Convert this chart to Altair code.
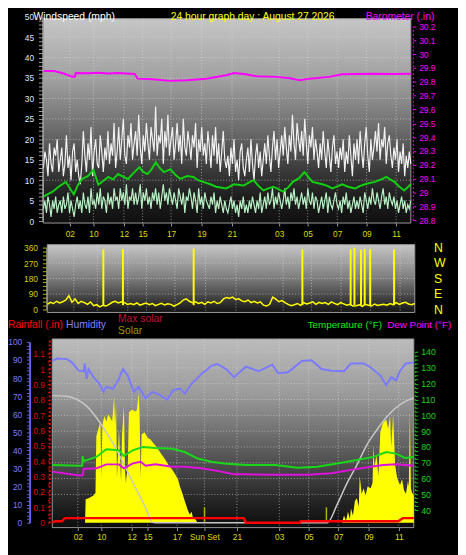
import altair as alt
import pandas as pd

FONT = "Liberation Sans"

# ---------------- text ----------------
title_text = "24 hour graph day : August 27 2026"

# ---------------- time axes (hours into the 24 h window) ----------------
top_tick_hours = [1.73, 3.27, 5.26, 6.48, 8.34, 10.33, 12.32, 15.40, 17.26, 19.19, 21.11, 23.04]
top_tick_labels = ["02", "10", "12", "15", "17", "19", "21", "03", "05", "07", "09", "11"]
bot_tick_hours = [1.70, 3.26, 5.28, 6.33, 8.28, 10.10, 12.26, 15.07, 17.02, 18.98, 21.0, 23.0]
bot_tick_labels = ["02", "10", "12", "15", "17", "Sun Set", "21", "03", "05", "07", "09", "11"]

# ---------------- wind (mph), 6-minute samples ----------------
gust = [13, 17, 15, 11, 19, 14, 12, 18, 16, 20, 12, 15,
        18, 11, 14, 21, 13, 16, 10, 17, 19, 12, 15, 11,
        9, 14, 22, 16, 12, 19, 15, 23, 11, 17, 20, 14,
        13, 21, 17, 12, 18, 15, 22, 14, 19, 16, 24, 13,
        17, 23, 15, 20, 25, 16, 14, 21, 18, 24, 15, 19,
        22, 16, 26, 18, 14, 21, 17, 24, 19, 15, 23, 20,
        17, 28, 16, 21, 19, 25, 14, 22, 18, 26, 16, 20,
        23, 15, 19, 24, 17, 21, 14, 25, 18, 16, 22, 19,
        15, 21, 18, 24, 13, 20, 17, 23, 16, 19, 14, 22,
        18, 13, 21, 16, 23, 14, 19, 12, 17, 22, 15, 13,
        16, 11, 18, 14, 20, 12, 15, 10, 17, 19, 13, 11,
        15, 18, 12, 20, 14, 10, 16, 19, 13, 17, 11, 15,
        19, 14, 21, 16, 12, 18, 22, 15, 20, 13, 17, 21,
        16, 23, 18, 14, 21, 17, 26, 19, 15, 24, 20, 17,
        22, 16, 25, 19, 14, 21, 18, 23, 15, 20, 17, 13,
        19, 15, 22, 17, 13, 20, 16, 12, 18, 21, 14, 17,
        13, 18, 15, 20, 12, 17, 14, 21, 16, 11, 19, 15,
        20, 14, 22, 17, 13, 19, 23, 16, 12, 20, 15, 18,
        22, 17, 24, 15, 20, 18, 23, 14, 19, 21, 16, 13,
        18, 15, 20, 12, 17, 14, 19, 11, 16, 13, 17, 14]
speed = [3, 5, 2, 6, 4, 1, 5, 3, 6, 2, 4, 5,
         2, 6, 3, 4, 7, 2, 5, 3, 1, 4, 6, 3,
         5, 2, 7, 4, 3, 6, 2, 8, 4, 5, 3, 7,
         4, 8, 3, 6, 5, 2, 7, 4, 6, 3, 8, 5,
         6, 3, 8, 5, 7, 4, 9, 3, 6, 5, 8, 4,
         7, 4, 6, 9, 3, 7, 5, 8, 4, 6, 3, 7,
         5, 8, 4, 7, 3, 6, 9, 5, 7, 4, 8, 6,
         4, 7, 5, 3, 8, 6, 4, 7, 2, 6, 5, 8,
         6, 3, 7, 5, 2, 8, 4, 6, 3, 7, 5, 4,
         3, 6, 4, 7, 2, 5, 3, 6, 4, 2, 5, 3,
         2, 4, 6, 3, 5, 2, 4, 1, 5, 3, 6, 2,
         4, 2, 5, 3, 6, 4, 2, 5, 3, 7, 2, 4,
         6, 3, 7, 4, 5, 8, 3, 6, 4, 7, 5, 3,
         5, 8, 4, 6, 3, 7, 5, 8, 4, 6, 3, 5,
         7, 4, 6, 3, 8, 5, 4, 7, 3, 6, 5, 2,
         4, 6, 3, 5, 7, 2, 6, 4, 3, 5, 7, 4,
         3, 5, 2, 6, 4, 7, 3, 5, 2, 4, 6, 3,
         5, 3, 6, 4, 2, 7, 5, 3, 6, 4, 8, 5,
         4, 7, 5, 3, 6, 8, 4, 6, 3, 7, 5, 4,
         6, 3, 5, 2, 4, 6, 3, 5, 2, 4, 3, 5]
avg_hours = [0, 0.6, 1.0, 1.46, 1.99, 2.25, 2.52, 2.9, 3.27, 3.59, 3.9, 4.24, 4.55, 4.88, 5.2,
             5.52, 5.9, 6.27, 6.5, 6.8, 7.05, 7.34, 7.6, 7.87, 8.3, 8.6, 8.94, 9.4, 9.8, 10.1,
             10.44, 10.9, 11.29, 11.94, 12.45, 13.09, 13.4, 13.73, 14.05, 14.37, 14.7, 15.02,
             15.35, 15.66, 16.0, 16.30, 16.7, 17.05, 17.3, 17.58, 18.22, 18.55, 18.87, 19.2,
             19.51, 19.9, 20.36, 20.7, 21.0, 21.3, 21.65, 22.0, 22.40, 22.65, 22.93, 23.25, 23.57, 24.0]
avg_vals = [6.0, 7.2, 8.4, 9.6, 6.5, 8.8, 10.3, 11.0, 12.5, 8.9, 9.8, 10.8, 10.2, 11.5, 10.9,
            10.3, 11.8, 13.2, 12.1, 11.5, 12.6, 14.4, 13.0, 12.0, 12.7, 11.4, 10.3, 11.0, 10.8, 10.0,
            9.6, 9.0, 8.4, 8.0, 9.0, 8.7, 9.4, 10.0, 8.6, 7.5, 8.0, 8.4,
            7.8, 7.2, 8.3, 9.6, 10.5, 12.0, 10.8, 9.6, 9.0, 8.6, 8.0, 8.5,
            9.0, 8.4, 8.0, 8.6, 9.0, 9.3, 9.6, 10.1, 10.8, 10.2, 9.6, 8.4, 7.5, 9.0]

# ---------------- barometer (in) ----------------
baro_hours = [0, 0.71, 1.28, 1.86, 2.05, 2.12, 2.95, 3.59, 4.24, 4.88, 5.97, 6.16, 7.12, 8.28, 9.37,
              10.65, 11.94, 12.45, 13.22, 13.92, 15.21, 16.11, 16.75, 17.39, 18.67, 19.51, 21.43, 22.84, 24.0]
baro_vals = [29.878, 29.878, 29.862, 29.838, 29.836, 29.864, 29.862, 29.866, 29.860, 29.864, 29.857,
             29.823, 29.818, 29.807, 29.812, 29.822, 29.848, 29.864, 29.855, 29.840, 29.836, 29.826,
             29.811, 29.823, 29.836, 29.855, 29.859, 29.857, 29.859]

# ---------------- wind direction (deg) ----------------
direction = [30, 42, 35, 48, 38, 45, 55, 80, 42, 62,
             35, 48, 40, 30, 44, 22, 28, 15, 25, 20,
             30, 42, 48, 38, 45, 40, 30, 35, 28, 38,
             25, 32, 38, 28, 35, 22, 30, 36, 26, 33,
             30, 20, 28, 38, 55, 62, 48, 40, 45, 35,
             42, 30, 45, 38, 48, 35, 40, 60, 70, 65,
             72, 58, 62, 50, 45, 55, 40, 48, 38, 44,
             25, 20, 30, 72, 60, 45, 52, 40, 30, 22,
             28, 35, 24, 40, 32, 38, 45, 30, 42, 35,
             40, 30, 44, 36, 28, 40, 33, 25, 30, 20,
             22, 28, 18, 30, 25, 20, 32, 24, 28, 30,
             25, 35, 28, 40, 30, 38, 42, 32, 28, 35]
spike_hours = [3.66, 4.94, 9.56, 16.66, 19.81, 20.06, 20.49, 20.73, 21.09, 22.65]
spike_vals = [350, 352, 355, 350, 350, 360, 348, 352, 350, 350]
spike_base = [25, 25, 25, 25, 25, 25, 25, 25, 25, 25]

# ---------------- bottom panel ----------------
hum_hours = [0, 0.33, 0.98, 1.30, 1.76, 2.09, 2.15, 2.28, 2.41, 2.74, 3.13, 3.39, 3.59, 4.04, 4.37,
             4.70, 5.02, 5.41, 5.74, 6.20, 6.65, 7.17, 7.63, 8.02, 8.48, 8.80, 9.26, 9.91, 10.57, 10.96,
             11.54, 12.07, 12.85, 13.70, 14.61, 15.0, 15.65, 16.57, 17.22, 17.87, 18.52, 19.37, 19.83,
             20.67, 21.13, 21.78, 22.17, 22.50, 22.83, 23.09, 23.48, 24.0]
hum_vals = [89.5, 90.8, 90.5, 88.7, 84.1, 83.8, 88.1, 79.6, 85.0, 80.5, 76.9, 72.4, 75.1, 74.2, 78.7,
            85.0, 81.4, 72.4, 75.1, 68.8, 72.4, 70.6, 67.9, 73.3, 74.2, 71.5, 76.9, 82.3, 86.8, 87.8,
            85.0, 80.5, 86.3, 83.8, 87.4, 82.7, 83.2, 89.5, 89.9, 85.0, 84.1, 83.8, 88.1,
            88.1, 86.0, 81.4, 76.0, 80.5, 78.7, 84.1, 88.1, 88.7]
temp_hours = [0, 1.83, 1.99, 2.02, 2.09, 2.28, 2.93, 3.59, 4.43, 4.76, 5.35, 6.0, 6.85, 7.96, 8.80,
              9.65, 10.57, 11.41, 12.85, 14.80, 16.30, 17.61, 18.91, 20.22, 21.33, 22.17, 22.83, 23.41, 24.0]
temp_vals = [68.6, 68.1, 68.1, 74.3, 71.0, 71.7, 73.7, 78.5, 77.9, 74.3, 77.9, 79.9, 79.3, 78.9, 76.8,
             72.7, 70.6, 69.6, 68.6, 68.6, 66.9, 67.5, 69.6, 71.7, 73.7, 76.8, 75.8, 73.1, 73.7]
dew_hours = [0, 1.83, 2.02, 2.09, 2.93, 3.59, 4.43, 4.76, 5.35, 5.87, 6.20, 6.85, 7.96, 8.80, 9.91,
             11.22, 12.07, 12.85, 14.80, 16.96, 18.52, 19.83, 21.13, 21.98, 22.83, 24.0]
dew_vals = [64.4, 61.9, 62.0, 66.1, 66.5, 69.0, 69.0, 66.5, 69.6, 70.6, 68.1, 69.0, 67.5, 67.5, 66.5,
            64.4, 62.7, 62.7, 62.4, 62.4, 63.4, 65.5, 67.5, 68.6, 69.0, 68.1]
rain_hours = [0, 0.2, 0.65, 0.85, 12.72, 12.85, 16.43, 16.50, 22.96, 23.28, 24.0]
rain_vals = [0.0, 0.01, 0.01, 0.03, 0.03, 0.0, 0.0, 0.01, 0.01, 0.03, 0.03]
maxsol_hours = [0, 0.98, 1.63, 2.28, 2.93, 3.59, 4.24, 4.89, 5.54, 6.20, 6.65, 6.85,
                18.26, 18.91, 19.57, 20.22, 20.87, 21.52, 22.17, 22.83, 23.48, 24.0]
maxsol_vals = [703, 700, 682, 645, 582, 500, 409, 300, 192, 83, 2, 0,
               0, 100, 219, 319, 428, 510, 582, 637, 673, 690]
solar_hours = [0, 2.18, 2.22, 2.41, 2.74, 2.87, 2.93, 3.07, 3.20, 3.26,
               3.33, 3.46, 3.59, 3.72, 3.85, 3.98, 4.11, 4.17, 4.24, 4.30,
               4.43, 4.57, 4.63, 4.76, 4.83, 4.89, 5.02, 5.09, 5.22, 5.35,
               5.48, 5.61, 5.74, 5.80, 5.87, 5.93, 6.13, 6.33, 6.52, 6.72,
               6.91, 7.04, 7.24, 7.50, 7.70, 7.96, 8.15, 8.35, 8.48, 8.61,
               8.80, 9.00, 9.13, 9.26, 9.33, 9.46, 9.65, 19.24, 19.37, 19.50,
               19.63, 19.76, 19.83, 19.96, 20.09, 20.22, 20.35, 20.41, 20.54, 20.67,
               20.80, 20.93, 21.13, 21.26, 21.33, 21.39, 21.52, 21.65, 21.78, 21.91,
               21.98, 22.11, 22.17, 22.30, 22.43, 22.50, 22.63, 22.70, 22.76, 22.89,
               23.02, 23.09, 23.22, 23.35, 23.48, 23.61, 23.67, 23.74, 23.81, 23.87,
               23.93, 24.0]
solar_vals = [0, 0, 130, 135, 150, 165, 480, 520, 560, 250,
              540, 590, 560, 600, 580, 560, 700, 540, 660, 250,
              520, 230, 480, 650, 300, 220, 330, 610, 620, 625,
              615, 620, 715, 600, 250, 490, 500, 470, 460, 440,
              420, 405, 380, 350, 320, 295, 270, 240, 200, 170,
              120, 70, 45, 60, 30, 25, 0, 0, 40, 10,
              60, 20, 80, 40, 120, 135, 90, 260, 160, 190,
              150, 200, 190, 220, 430, 300, 380, 260, 500, 540,
              555, 565, 570, 520, 592, 420, 600, 450, 320, 250,
              220, 210, 240, 180, 160, 230, 200, 615, 190, 170,
              160, 150]
sun_marker_hours = [10.11, 18.20]
sun_marker_vals = [85, 85]

# ---------------- layout (pixels) ----------------
W, H = 458, 547
TOP_X, TOP_Y = [36, 410], [6, 214]
MID_X, MID_Y = [40, 414], [236, 305]
BOT_X, BOT_Y = [45, 413], [332, 524]


def sc(domain, rng):
    return alt.Scale(domain=domain, range=rng, nice=False, zero=False)


xs_top = sc([0, 24], TOP_X)
xs_mid = sc([0, 24], MID_X)
xs_bot = sc([0, 24], BOT_X)
ys_wind = sc([0, 50], [212, 4])
ys_baro = sc([28.8, 30.2], [211, 14])
ys_dir = sc([0, 360], [302, 239])
ys_hum = sc([0, 100], [519, 335])
ys_rain = sc([0, 1.2], [519, 331.4])
ys_temp = sc([40, 140], [506.3, 345.3])
ys_sol = sc([0, 1000], [519, 335])


def hours_for(n):
    return [i * 24 / (n - 1) for i in range(n)]


def lookup_expr(vals, labels):
    return ("[" + ",".join("'%s'" % l for l in labels) + "][indexof(["
            + ",".join(str(v) for v in vals) + "], datum.value)]")


def axis(**kw):
    base = dict(title=None, grid=False, zindex=1, labelOverlap=False, labelFlush=False,
                labelFont=FONT, labelFontSize=8.5)
    base.update(kw)
    return alt.Axis(**base)


one = pd.DataFrame({"k": [0]})


def panel(xr, yr, stops):
    grad = alt.LinearGradient(gradient="linear", x1=0, x2=0, y1=0, y2=1,
                              stops=[alt.GradientStop(color=c, offset=o) for o, c in stops])
    return alt.Chart(one).mark_rect(fill=grad, stroke="#9a9a9a", strokeWidth=1).encode(
        x=alt.value(xr[0]), x2=alt.value(xr[1]), y=alt.value(yr[0]), y2=alt.value(yr[1]))


def vgrid(hours, xscale, yr):
    return alt.Chart(pd.DataFrame({"h": hours})).mark_rule(
        color="#dcdcdc", opacity=0.6, strokeDash=[1, 2], strokeWidth=1).encode(
        x=alt.X("h:Q", scale=xscale, axis=None), y=alt.value(yr[0]), y2=alt.value(yr[1]))


def hgrid(vals, yscale, xr):
    return alt.Chart(pd.DataFrame({"v": vals})).mark_rule(
        color="#dcdcdc", opacity=0.6, strokeDash=[1, 2], strokeWidth=1).encode(
        y=alt.Y("v:Q", scale=yscale, axis=None), x=alt.value(xr[0]), x2=alt.value(xr[1]))


def line(hours, vals, xscale, yscale, color, width, xaxis=None, yaxis=None, **kw):
    df = pd.DataFrame({"h": hours, "v": vals})
    return alt.Chart(df).mark_line(color=color, strokeWidth=width, **kw).encode(
        x=alt.X("h:Q", scale=xscale, axis=xaxis), y=alt.Y("v:Q", scale=yscale, axis=yaxis))


def label(text, x, y, color, size=10.5, align="left", baseline="middle"):
    return alt.Chart(one).mark_text(text=text, color=color, fontSize=size, font=FONT,
                                    align=align, baseline=baseline).encode(
        x=alt.value(x), y=alt.value(y))


# ---------------- axes ----------------
x_top_axis = axis(orient="bottom", offset=TOP_Y[1] - H, values=top_tick_hours,
                  labelExpr=lookup_expr(top_tick_hours, top_tick_labels), tickSize=3,
                  tickColor="#9a9a9a", labelPadding=4, domain=False, labelColor="#dcdc00")
wind_axis = axis(orient="left", offset=-(TOP_X[0] - 1), values=list(range(0, 51)),
                 labelExpr="datum.value % 5 == 0 ? datum.label : ''", tickSize=4,
                 tickColor="#a0a0a0", labelPadding=5, domainColor="#b4b4b4", labelColor="#dce6ff")
baro_axis = axis(orient="right", offset=TOP_X[1] + 2 - W,
                 values=[28.8, 28.9, 29.0, 29.1, 29.2, 29.3, 29.4, 29.5, 29.6, 29.7, 29.8, 29.9, 30.0, 30.1, 30.2],
                 labelExpr="format(datum.value, '~g')", tickSize=3, tickColor="#ff00ff",
                 labelPadding=3, domainColor="#ff00ff", domainDash=[2, 2], labelColor="#ff00ff")
dir_axis = axis(orient="left", offset=-(MID_X[0] - 1), values=[22.5 * i for i in range(17)],
                labelExpr="datum.value % 90 == 0 ? datum.label : ''", tickSize=4,
                tickColor="#b4b400", labelPadding=5, domainColor="#a0a0a0", labelColor="#d2d200")
compass_axis = axis(orient="right", offset=MID_X[1] - W, values=[0, 90, 180, 270, 360],
                    labelExpr=lookup_expr([0, 90, 180, 270, 360], ["N", "E", "S", "W", "N"]),
                    ticks=False, domain=False, labelPadding=19, labelColor="#ffff00",
                    labelFontSize=12.5)
hum_axis = axis(orient="left", offset=-22, values=list(range(0, 101, 2)),
                labelExpr="datum.value % 10 == 0 ? datum.label : ''", tickSize=3,
                tickColor="#6464e6", labelPadding=5, domainColor="#6464e6", domainWidth=2,
                labelColor="#7d7dff")
rain_axis = axis(orient="left", offset=-42, values=[round(0.05 * i, 2) for i in range(23)],
                 labelExpr="round(datum.value * 100) % 10 == 0 ? format(datum.value, '~g') : ''",
                 tickSize=2, tickColor="#e00000", labelPadding=3, domainColor="#e01010",
                 domainDash=[2, 2], domainWidth=2, labelColor="#e00000")
temp_axis = axis(orient="right", offset=BOT_X[1] + 1 - W, values=[40 + 2.5 * i for i in range(41)],
                 labelExpr="datum.value % 10 == 0 ? datum.label : ''", tickSize=3,
                 tickColor="#19c819", labelPadding=3, domainColor="#19c819", domainDash=[2, 2],
                 labelColor="#19d219", labelFontSize=9)
x_bot_axis = axis(orient="bottom", offset=BOT_Y[1] - H, values=bot_tick_hours,
                  labelExpr=lookup_expr(bot_tick_hours, bot_tick_labels), tickSize=3,
                  tickColor="#9a9a9a", labelPadding=2, domain=False, labelColor="#dcdc00")

layers = [
    panel(TOP_X, TOP_Y, [(0, "#c6c6c6"), (0.3, "#a0a0a0"), (0.55, "#6a6a6a"), (0.75, "#383838"),
                         (0.88, "#1c1c1c"), (1, "#101010")]),
    panel(MID_X, MID_Y, [(0, "#c6c6c6"), (0.5, "#7c7c7c"), (1, "#141414")]),
    panel(BOT_X, BOT_Y, [(0, "#bcbcbc"), (0.3, "#9a9a9a"), (0.6, "#5a5a5a"), (0.85, "#262626"), (1, "#0c0c0c")]),
    vgrid(top_tick_hours, xs_top, TOP_Y),
    hgrid([5, 10, 15, 20, 25, 30, 35, 40, 45], ys_wind, TOP_X),
    vgrid(top_tick_hours, xs_mid, MID_Y),
    hgrid([90, 180, 270], ys_dir, MID_X),
    vgrid(bot_tick_hours, xs_bot, BOT_Y),
    hgrid([50, 60, 70, 80, 90, 100, 110, 120, 130, 140], ys_temp, BOT_X),
    # top panel
    line(hours_for(len(gust)), gust, xs_top, ys_wind, "#f2f2f2", 1.2, xaxis=x_top_axis, yaxis=wind_axis),
    line(hours_for(len(speed)), speed, xs_top, ys_wind, "#b8f2c4", 1.2),
    line(avg_hours, avg_vals, xs_top, ys_wind, "#10d010", 2),
    line(baro_hours, baro_vals, xs_top, ys_baro, "#ff00ff", 2, yaxis=baro_axis),
    # middle panel
    line(hours_for(len(direction)), direction, xs_mid, ys_dir, "#ffff00", 1.5, yaxis=dir_axis),
    alt.Chart(pd.DataFrame({"h": spike_hours, "v": spike_vals, "b": spike_base})).mark_rule(
        color="#ffff00", strokeWidth=2).encode(
        x=alt.X("h:Q", scale=xs_mid, axis=None),
        y=alt.Y("v:Q", scale=ys_dir, axis=compass_axis), y2=alt.Y2("b:Q")),
    # bottom panel
    alt.Chart(pd.DataFrame({"h": solar_hours, "v": solar_vals})).mark_area(color="#ffff00").encode(
        x=alt.X("h:Q", scale=xs_bot, axis=x_bot_axis),
        y=alt.Y("v:Q", scale=ys_sol, axis=None), y2=alt.datum(0)),
    alt.Chart(pd.DataFrame({"h": sun_marker_hours, "v": sun_marker_vals})).mark_rule(
        color="#b4b400", strokeWidth=1.5).encode(
        x=alt.X("h:Q", scale=xs_bot, axis=None),
        y=alt.Y("v:Q", scale=ys_sol, axis=None), y2=alt.datum(0)),
    line(maxsol_hours, maxsol_vals, xs_bot, ys_sol, "#c8c8c8", 1.5, interpolate="monotone"),
    line(hum_hours, hum_vals, xs_bot, ys_hum, "#7b7bff", 2, yaxis=hum_axis),
    line(temp_hours, temp_vals, xs_bot, ys_temp, "#18d818", 2, yaxis=temp_axis),
    line(dew_hours, dew_vals, xs_bot, ys_temp, "#e010e0", 2),
    line(rain_hours, rain_vals, xs_bot, ys_rain, "#ff0000", 2.5, yaxis=rain_axis),
    # titles and legends
    label("Windspeed (mph)", 26, -1, "#ffffff", size=10.5, baseline="top"),
    label(title_text, 249, -1, "#ffff00", size=10.5, align="center", baseline="top"),
    label("Barometer (.in)", 364, -1, "#ff00ff", size=10.5, baseline="top"),
    label("Rainfall (.in)", 0, 318, "#ff0000"),
    label("Humidity", 59, 318, "#8080ff"),
    label("Max solar", 112, 312, "#c0143c"),
    label("Solar", 112, 324, "#9a9a00"),
    label("Temperature (°F)", 305, 318, "#10f010", size=10),
    label("Dew Point (°F)", 386, 318, "#ff00ff", size=10),
]

chart = alt.layer(*layers).resolve_scale(x="independent", y="independent").properties(
    width=W, height=H, autosize=alt.AutoSizeParams(type="none"), padding=0,
    background="#000000").configure_view(strokeWidth=0).configure_text(font=FONT)

chart.save("out.html", embed_options={"renderer": "svg", "actions": False})
